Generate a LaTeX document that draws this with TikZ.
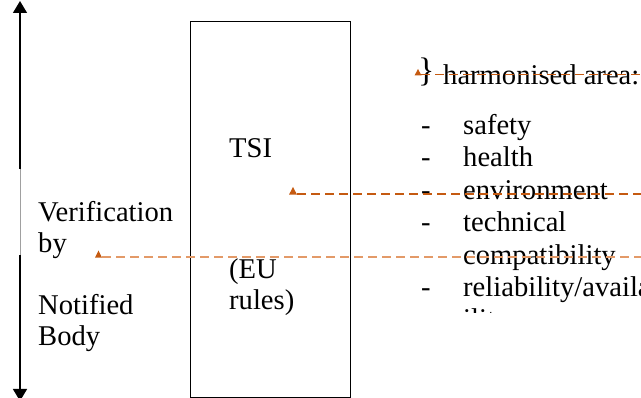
\documentclass[tikz,border=0pt]{standalone}
\usepackage{fontspec}
\setmainfont{Liberation Serif}
\usetikzlibrary{arrows.meta}
\definecolor{dorange}{HTML}{C55A11}
\definecolor{lorange}{HTML}{E39A68}
\definecolor{thingray}{HTML}{A0A0A0}
\begin{document}
\begin{tikzpicture}[x=1pt,y=-1pt,
  txt/.style={anchor=base west,inner sep=0pt,font=\fontsize{28.6}{32}\selectfont},
  conn/.style={dash pattern=on 9pt off 5pt,line width=1.2pt},
  bigarrow/.style={line width=1.5pt,-{Triangle[width=14pt,length=12pt]}}]
\useasboundingbox (0,0) rectangle (641,398);
\clip (0,0) rectangle (641,398);

% vertical double arrow at the left
\coordinate (atop) at (20,1);
\coordinate (abot) at (20,401);
\coordinate (g1) at (20,169);
\coordinate (g2) at (20,255);
\draw[bigarrow] (g1) -- (atop);
\draw[bigarrow] (g2) -- (abot);
\draw[thingray,line width=0.6pt] (g1) -- (g2);

% TSI box
\node[draw,line width=1pt,minimum width=160pt,minimum height=376pt,anchor=north west,inner sep=0pt] (tsibox) at (190,21) {};

% left labels
\node[txt] (ver) at (38,221.5) {Verification};
\node[txt] (by) at (38,252.5) {by};
\node[txt] (not) at (38,314.5) {Notified};
\node[txt] (body) at (38,345.5) {Body};

% box labels
\node[txt] (tsi) at (229,157.5) {TSI};
\node[txt] (eu) at (229,278.5) {(EU};
\node[txt] (rules) at (229,309.5) {rules)};

% right list
\node[anchor=south west,inner sep=0pt,font=\fontsize{34}{34}\selectfont] (brace) at (418,86) {\}};
\node[txt] (harm) at (443,84.5) {harmonised area:};
\foreach \y/\t/\n in {134.5/safety/l1,166.9/health/l2,199.3/environment/l3,231.7/technical/l4,296.5/reliability\slash availability/l6}{
  \node[txt] (d\n) at (421,\y) {-};
  \node[txt] (\n) at (463,\y) {\t};
}
\node[txt] (l5) at (463,264.1) {compatibility};
\begin{scope}
  \clip (440,300) rectangle (520,313);
  \node[txt] (l7) at (463,328.9) {ility};
\end{scope}

% dashed connectors with triangle markers
\coordinate (s1) at (421,75);
\coordinate (e1) at (645,75);
\fill[dorange] (414.5,75.5) -- (418,69) -- (421.5,75.5) -- cycle;
\draw[conn,dorange,line width=1pt] (s1) -- (e1);

\coordinate (s2) at (297,194);
\coordinate (e2) at (645,194);
\fill[dorange] (289,194.6) -- (293,187) -- (297,194.6) -- cycle;
\draw[conn,dorange] (s2) -- (e2);

\coordinate (s3) at (102,257);
\coordinate (e3) at (645,257);
\fill[dorange] (95,257.6) -- (98.5,250.5) -- (102,257.6) -- cycle;
\draw[conn,lorange] (s3) -- (e3);
\end{tikzpicture}
\end{document}
